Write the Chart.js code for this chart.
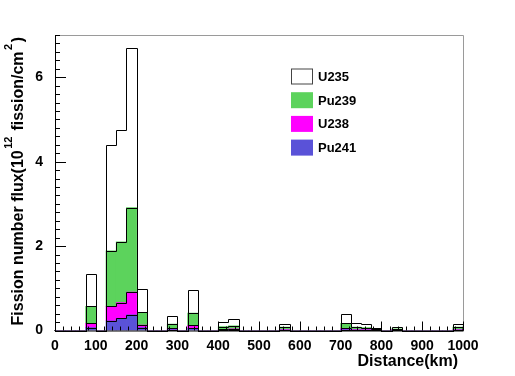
<!DOCTYPE html>
<html>
<head>
<meta charset="utf-8">
<script src="https://cdn.jsdelivr.net/npm/chart.js@4/dist/chart.umd.min.js"></script>
<style>
  html, body { margin: 0; padding: 0; background: #fff; }
  #wrap { width: 515px; height: 376px; }
</style>
</head>
<body>
<div id="wrap"><canvas id="fluxChart" width="515" height="376"></canvas></div>
<script>
// Bin lower edges (km), 25 km wide bins
const binLow = [
    0, 25, 50, 75, 100, 125, 150, 175, 200, 225,
    250, 275, 300, 325, 350, 375, 400, 425, 450, 475,
    500, 525, 550, 575, 600, 625, 650, 675, 700, 725,
    750, 775, 800, 825, 850, 875, 900, 925, 950, 975
];
const binWidth = 25;

// Per-isotope contributions (10^12 fission/cm^2), stacked bottom-up
const pu241 = [
    0, 0, 0, 0.07, 0, 0.23, 0.29, 0.37, 0.07, 0,
    0, 0.02, 0, 0.05, 0, 0, 0.01, 0.02, 0, 0,
    0, 0, 0.01, 0, 0, 0, 0, 0, 0.02, 0.01,
    0.01, 0.01, 0, 0.01, 0, 0, 0, 0, 0, 0.01
];
const u238 = [
    0, 0, 0, 0.10, 0, 0.34, 0.37, 0.54, 0.06, 0,
    0, 0.03, 0, 0.07, 0, 0, 0.02, 0.02, 0, 0,
    0, 0, 0.01, 0, 0, 0, 0, 0, 0.03, 0.01,
    0.01, 0.01, 0, 0.01, 0, 0, 0, 0, 0, 0.01
];
const pu239 = [
    0, 0, 0, 0.40, 0, 1.32, 1.44, 2.00, 0.30, 0,
    0, 0.10, 0, 0.29, 0, 0, 0.06, 0.07, 0, 0,
    0, 0, 0.06, 0, 0, 0, 0, 0, 0.12, 0.06,
    0.05, 0.02, 0, 0.02, 0, 0, 0, 0, 0, 0.06
];
const u235 = [
    0, 0, 0, 0.76, 0, 2.51, 2.64, 3.79, 0.55, 0,
    0, 0.19, 0, 0.55, 0, 0, 0.11, 0.16, 0, 0,
    0, 0, 0.07, 0, 0, 0, 0, 0, 0.21, 0.09,
    0.08, 0.02, 0, 0.04, 0, 0, 0, 0, 0, 0.07
];

const xTicks = [0, 100, 200, 300, 400, 500, 600, 700, 800, 900, 1000];
const yTicks = [0, 2, 4, 6];

const FONT = '"Liberation Sans", Arial, Helvetica, sans-serif';

function toPoints(values) {
    return values.map((v, i) => ({ x: binLow[i] + binWidth / 2, y: v }));
}

function makeSet(label, values, fill) {
    return {
        label: label,
        data: toPoints(values),
        backgroundColor: fill,
        borderWidth: 0,
        barPercentage: 1,
        categoryPercentage: 1
    };
}

// ROOT-like step outlines on top of each cumulative layer
const stepOutline = {
    id: 'stepOutline',
    afterDatasetsDraw(chart) {
        const ctx = chart.ctx;
        const xs = chart.scales.x;
        const ys = chart.scales.y;
        const layers = [pu241, u238, pu239, u235];
        const cum = binLow.map(() => 0);
        ctx.save();
        ctx.lineWidth = 1;
        ctx.strokeStyle = '#000';
        layers.forEach(layer => {
            layer.forEach((v, i) => { cum[i] += v; });
            ctx.beginPath();
            ctx.moveTo(xs.getPixelForValue(binLow[0]), ys.getPixelForValue(0));
            cum.forEach((h, i) => {
                const py = Math.round(ys.getPixelForValue(h)) + 0.5;
                const x0 = Math.round(xs.getPixelForValue(binLow[i])) + 0.5;
                const x1 = Math.round(xs.getPixelForValue(binLow[i] + binWidth)) + 0.5;
                ctx.lineTo(x0, py);
                ctx.lineTo(x1, py);
            });
            ctx.lineTo(xs.getPixelForValue(1000), ys.getPixelForValue(0));
            ctx.stroke();
        });
        ctx.restore();
    }
};

// Legend, ROOT-style frame, inward ticks and axis titles
const rootDecor = {
    id: 'rootDecor',
    afterDraw(chart) {
        const ctx = chart.ctx;
        const area = chart.chartArea;
        const xs = chart.scales.x;
        const ys = chart.scales.y;
        ctx.save();

        // frame
        ctx.lineWidth = 1;
        ctx.strokeStyle = '#9a9a9a';
        ctx.beginPath();
        ctx.moveTo(area.left, area.top + 0.5);
        ctx.lineTo(area.right + 0.5, area.top + 0.5);
        ctx.lineTo(area.right + 0.5, area.bottom);
        ctx.stroke();
        ctx.strokeStyle = '#000';
        ctx.beginPath();
        ctx.moveTo(area.left + 0.5, area.top);
        ctx.lineTo(area.left + 0.5, area.bottom + 0.5);
        ctx.lineTo(area.right + 0.5, area.bottom + 0.5);
        ctx.stroke();

        // x ticks: major every 100, minor every 20
        ctx.beginPath();
        for (let v = 0; v <= 1000; v += 20) {
            const px = Math.round(xs.getPixelForValue(v)) + 0.5;
            const len = v % 100 === 0 ? 9 : 4;
            ctx.moveTo(px, area.bottom);
            ctx.lineTo(px, area.bottom - len);
        }
        // y ticks: major every 2, minor every 0.2
        for (let k = 0; k <= 35; k++) {
            const py = Math.round(ys.getPixelForValue(k * 0.2)) + 0.5;
            const len = k % 10 === 0 ? 11 : 5;
            ctx.moveTo(area.left, py);
            ctx.lineTo(area.left + len, py);
        }
        ctx.stroke();

        // legend
        const order = [3, 2, 1, 0];
        ctx.font = 'bold 13px ' + FONT;
        ctx.textBaseline = 'middle';
        ctx.textAlign = 'left';
        order.forEach((di, row) => {
            const ds = chart.data.datasets[di];
            const cy = 76.5 + row * 23.7;
            ctx.fillStyle = ds.backgroundColor;
            ctx.fillRect(291, cy - 8, 22, 16);
            if (di === 3) {
                ctx.strokeStyle = '#444';
                ctx.strokeRect(291.5, cy - 7.5, 21, 15);
            }
            ctx.fillStyle = '#000';
            ctx.fillText(ds.label, 318, cy + 1);
        });

        // x title
        ctx.font = 'bold 16px ' + FONT;
        ctx.textAlign = 'right';
        ctx.textBaseline = 'alphabetic';
        ctx.fillText('Distance(km)', 458, 366);

        // y title, rotated, with superscripts
        ctx.translate(23, 37);
        ctx.rotate(-Math.PI / 2);
        const parts = [
            { t: 'Fission number flux(10', sup: false },
            { t: '12', sup: true },
            { t: ' fission/cm', sup: false },
            { t: '2', sup: true },
            { t: ')', sup: false }
        ];
        const mainFont = 'bold 16px ' + FONT;
        const supFont = 'bold 11px ' + FONT;
        let total = 0;
        parts.forEach(p => {
            ctx.font = p.sup ? supFont : mainFont;
            p.w = ctx.measureText(p.t).width + (p.sup ? 3 : 0);
            total += p.w;
        });
        let x = -total;
        ctx.textAlign = 'left';
        parts.forEach(p => {
            ctx.font = p.sup ? supFont : mainFont;
            ctx.fillText(p.t, x + (p.sup ? 1.5 : 0), p.sup ? -11 : 0);
            x += p.w;
        });

        ctx.restore();
    }
};

new Chart(document.getElementById('fluxChart'), {
    type: 'bar',
    data: {
        datasets: [
            makeSet('Pu241', pu241, '#5a52d8'),
            makeSet('U238', u238, '#ff00ff'),
            makeSet('Pu239', pu239, '#5cd35c'),
            makeSet('U235', u235, '#ffffff')
        ]
    },
    options: {
        responsive: false,
        animation: false,
        layout: { padding: { top: 35, right: 52, left: 0, bottom: 0 } },
        plugins: {
            legend: { display: false },
            tooltip: { enabled: false }
        },
        scales: {
            x: {
                type: 'linear',
                stacked: true,
                offset: false,
                min: 0,
                max: 1000,
                grid: { display: false, drawTicks: false, offset: false },
                border: { display: false },
                afterBuildTicks(scale) {
                    scale.ticks = xTicks.map(v => ({ value: v }));
                },
                afterFit(scale) { scale.height = 45.5; },
                ticks: {
                    autoSkip: false,
                    maxRotation: 0,
                    padding: 7,
                    color: '#000',
                    font: { family: FONT, size: 14, weight: 'bold' },
                    callback: v => String(v)
                }
            },
            y: {
                stacked: true,
                min: 0,
                max: 7,
                grid: { display: false, drawTicks: false },
                border: { display: false },
                afterBuildTicks(scale) {
                    scale.ticks = yTicks.map(v => ({ value: v }));
                },
                afterFit(scale) { scale.width = 55; },
                ticks: {
                    padding: 12,
                    color: '#000',
                    font: { family: FONT, size: 14, weight: 'bold' }
                }
            }
        }
    },
    plugins: [stepOutline, rootDecor]
});
</script>
</body>
</html>
